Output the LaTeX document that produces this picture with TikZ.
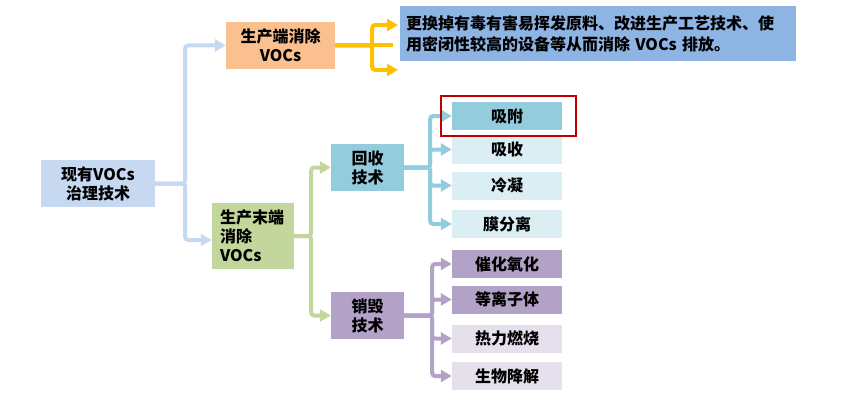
\documentclass[tikz,border=0pt]{standalone}
\usepackage{fontspec}
\setmainfont{Noto Sans CJK SC}
\usetikzlibrary{arrows.meta}

\definecolor{rootblue}{HTML}{C6D9F1}
\definecolor{srcorange}{HTML}{FAC090}
\definecolor{gold}{HTML}{FFC000}
\definecolor{descblue}{HTML}{8EB4E3}
\definecolor{endgreen}{HTML}{C3D69B}
\definecolor{recblue}{HTML}{93CDDD}
\definecolor{reclight}{HTML}{DAEEF3}
\definecolor{despurple}{HTML}{B3A2C7}
\definecolor{deslight}{HTML}{E6E0EC}
\definecolor{hired}{HTML}{C00000}

\tikzset{
  box/.style={rectangle, inner sep=0pt, align=center,
    font=\fontsize{16}{19}\selectfont\bfseries},
  leaf/.style={box, minimum width=110pt, minimum height=28pt},
  link/.style={line width=4pt, rounded corners=3pt,
    -{Triangle[length=11pt,width=12pt]}},
}

\begin{document}
\begin{tikzpicture}[x=1pt, y=-1pt]
    \useasboundingbox (0,0) rectangle (854,404);

    % Left: root and the two main branches
    \node[box, fill=rootblue, minimum width=114pt, minimum height=47pt] (root) at (98,183.5) {现有VOCs\\治理技术};
    \node[box, fill=srcorange, minimum width=109pt, minimum height=47pt] (src) at (280.5,45.5) {生产端消除\\VOCs};
    \node[box, fill=endgreen, minimum width=82pt, minimum height=66pt, text width=66pt, align=left] (tail) at (253,236) {生产末端\\消除\\VOCs};

    \draw[link, rootblue] (root.east) -- ++(30,0) |- (src.west);
    \draw[link, rootblue] (root.east) -- ++(30,0) |- ([yshift=-4]tail.west);

    % Source elimination: description
    \node[box, fill=descblue, minimum width=396pt, minimum height=55pt, text width=384pt, align=left,
      font=\fontsize{16}{21}\selectfont\bfseries] (desc) at (598,33.5)
      {更换掉有毒有害易挥发原料、改进生产工艺技术、使\\用密闭性较高的设备等从而消除 VOCs 排放。};

    \coordinate (oup) at (398,25);
    \coordinate (odown) at (398,70);
    \coordinate (omid) at (393,45.5);
    \draw[link, gold] (src.east) -- ++(37,0) |- (oup);
    \draw[link, gold] (src.east) -- ++(37,0) |- (odown);
    \draw[gold, line width=4pt] (src.east) -- (omid);

    % End-of-pipe: recovery and destruction
    \node[box, fill=recblue, minimum width=73pt, minimum height=47pt] (rec) at (367.5,167.5) {回收\\技术};
    \node[box, fill=despurple, minimum width=73pt, minimum height=47pt] (des) at (367.5,315.5) {销毁\\技术};

    \draw[link, endgreen] (tail.east) -- ++(17,0) |- (rec.west);
    \draw[link, endgreen] (tail.east) -- ++(17,0) |- (des.west);

    % Recovery methods
    \node[leaf, fill=recblue] (xifu) at (507,116) {吸附};
    \node[leaf, fill=reclight] (xishou) at (507,149.5) {吸收};
    \node[leaf, fill=reclight] (lengning) at (507,185.5) {冷凝};
    \node[leaf, fill=reclight] (mofen) at (507,224) {膜分离};

    \foreach \n in {xifu, xishou, lengning, mofen}
      \draw[link, recblue] (rec.east) -- ++(26,0) |- (\n.west);

    \draw[hired, line width=2.5pt] ([xshift=-11,yshift=6]xifu.north west) rectangle ([xshift=14,yshift=-6]xifu.south east);

    % Destruction methods
    \node[leaf, fill=despurple] (cuihua) at (507,264) {催化氧化};
    \node[leaf, fill=despurple] (dengli) at (507,299.5) {等离子体};
    \node[leaf, fill=deslight] (reli) at (507,338.5) {热力燃烧};
    \node[leaf, fill=deslight] (shengwu) at (507,376) {生物降解};

    \foreach \n in {cuihua, dengli, reli, shengwu}
      \draw[link, despurple] (des.east) -- ++(28,0) |- (\n.west);
\end{tikzpicture}
\end{document}
